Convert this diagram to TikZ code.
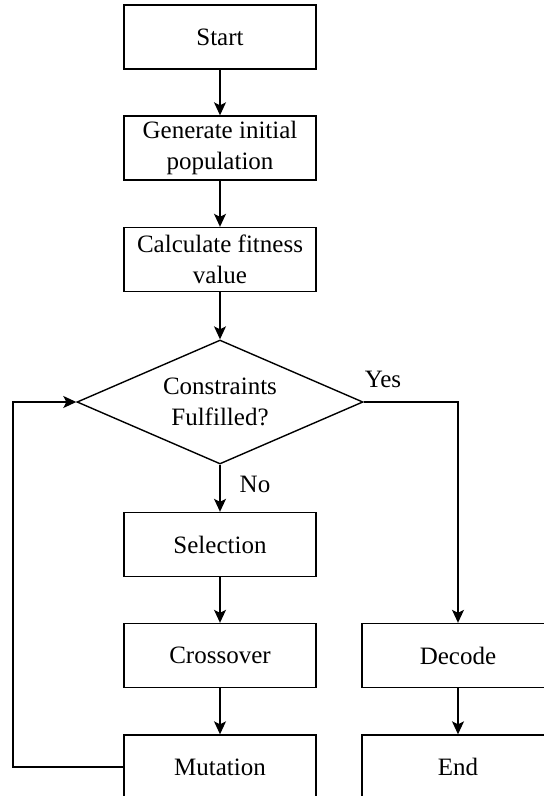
\documentclass[tikz,border=0pt]{standalone}
\usepackage{fontspec}
\setmainfont{Liberation Serif}
\usetikzlibrary{shapes.geometric,arrows.meta}
\begin{document}
\begin{tikzpicture}[x=1pt,y=-1pt,
  txt/.style={font=\fontsize{25}{31}\selectfont},
  box/.style={draw,line width=1.4pt,minimum width=192pt,minimum height=64pt,inner sep=0pt,align=center,txt},
  decision/.style={draw,line width=1.4pt,shape=diamond,aspect=2.3,minimum width=286pt,minimum height=124pt,inner sep=0pt,align=center,txt},
  conn/.style={line width=1.4pt,-{Stealth[length=13pt,width=12pt,inset=3pt]}},
  plain/.style={line width=1.4pt}]
\clip (0,0) rectangle (544,796);
\useasboundingbox (0,0) rectangle (544,796);
\node[box] (start) at (220,37) {Start};
\node[box] (gen) at (220,148) {Generate initial\\population};
\node[box] (calc) at (220,259.5) {Calculate fitness\\value};
\node[decision] (dec) at (220,402) {Constraints\\Fulfilled?};
\node[box] (sel) at (220,544.5) {Selection};
\node[box] (cross) at (220,655.5) {Crossover};
\node[box] (mut) at (220,767) {Mutation};
\node[box] (decode) at (458,655.5) {Decode};
\node[box] (end) at (458,767) {End};
\coordinate (lp) at (13,767);
\coordinate (yp) at (458,402);
\draw[conn] (start) -- (gen);
\draw[conn] (gen) -- (calc);
\draw[conn] (calc) -- (dec.north);
\draw[conn] (dec.south) -- (sel);
\draw[conn] (sel) -- (cross);
\draw[conn] (cross) -- (mut);
\draw[conn] (mut.west) -- (lp) |- (dec.west);
\draw[conn] (dec.east) -- (yp) -- (decode.north);
\draw[conn] (decode) -- (end);
\node[txt,anchor=base,inner sep=0pt] (yes) at (383,387) {Yes};
\node[txt,anchor=base,inner sep=0pt] (no) at (255,492) {No};
\end{tikzpicture}
\end{document}
